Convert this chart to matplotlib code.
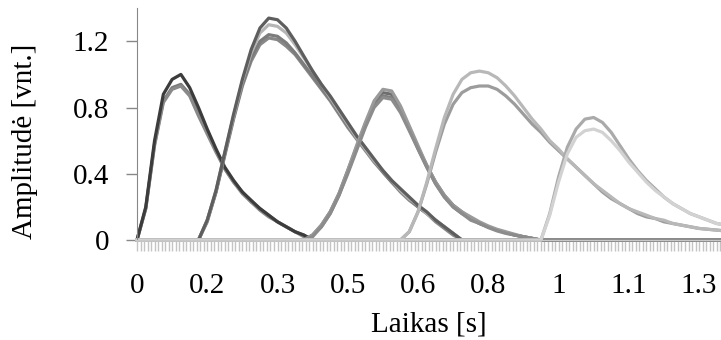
import numpy as np
import matplotlib.pyplot as plt
from matplotlib.ticker import MultipleLocator

plt.rcParams['font.family'] = ['Liberation Serif', 'DejaVu Serif']

# ------------------------------------------------
# sampled pulses (amplitude, step 0.02 s from onset)
# ------------------------------------------------
dt = 0.02
time = np.round(np.arange(0, 1.341, dt), 2)

onset_1 = 0.00
pulse_1a = [0, 0.20, 0.60, 0.88, 0.97, 1.00, 0.92, 0.80, 0.67, 0.55, 0.44,
            0.36, 0.29, 0.24, 0.19, 0.15, 0.11, 0.08, 0.05, 0.03, 0.0]
pulse_1b = [0, 0.19, 0.58, 0.84, 0.92, 0.94, 0.88, 0.76, 0.65, 0.54, 0.43,
            0.35, 0.29, 0.23, 0.19, 0.15, 0.11, 0.08, 0.05, 0.03, 0.0]
pulse_1c = [0, 0.19, 0.57, 0.83, 0.91, 0.93, 0.87, 0.75, 0.64, 0.53, 0.43,
            0.35, 0.28, 0.23, 0.18, 0.14, 0.11, 0.08, 0.05, 0.02, 0.0]

onset_2 = 0.14
pulse_2a = [0, 0.12, 0.30, 0.53, 0.76, 0.97, 1.15, 1.28, 1.34, 1.33, 1.28,
            1.20, 1.11, 1.02, 0.94, 0.87, 0.79, 0.71, 0.63, 0.56, 0.49, 0.42,
            0.36, 0.31, 0.26, 0.21, 0.17, 0.12, 0.08, 0.04, 0.0]
pulse_2b = [0, 0.12, 0.30, 0.53, 0.75, 0.96, 1.13, 1.25, 1.30, 1.29, 1.25,
            1.18, 1.10, 1.02, 0.94, 0.86, 0.78, 0.70, 0.62, 0.55, 0.48, 0.42,
            0.36, 0.30, 0.25, 0.21, 0.16, 0.12, 0.08, 0.04, 0.0]
pulse_2c = [0, 0.12, 0.29, 0.52, 0.74, 0.94, 1.10, 1.20, 1.24, 1.23, 1.19,
            1.13, 1.06, 0.99, 0.92, 0.85, 0.77, 0.69, 0.62, 0.55, 0.48, 0.41,
            0.35, 0.30, 0.25, 0.20, 0.16, 0.12, 0.08, 0.04, 0.0]
pulse_2d = [0, 0.11, 0.29, 0.51, 0.73, 0.93, 1.08, 1.18, 1.22, 1.21, 1.17,
            1.12, 1.05, 0.98, 0.91, 0.84, 0.76, 0.68, 0.61, 0.54, 0.47, 0.41,
            0.35, 0.29, 0.24, 0.20, 0.16, 0.11, 0.07, 0.03, 0.0]

onset_3 = 0.38
pulse_3a = [0, 0.03, 0.09, 0.17, 0.28, 0.42, 0.57, 0.71, 0.84, 0.91, 0.90,
            0.81, 0.69, 0.57, 0.45, 0.35, 0.27, 0.21, 0.17, 0.14, 0.11, 0.085,
            0.065, 0.05, 0.035, 0.02, 0.01, 0.0]
pulse_3b = [0, 0.03, 0.09, 0.17, 0.28, 0.42, 0.56, 0.70, 0.82, 0.89, 0.88,
            0.80, 0.68, 0.56, 0.45, 0.35, 0.27, 0.21, 0.17, 0.13, 0.10, 0.08,
            0.06, 0.045, 0.03, 0.02, 0.01, 0.0]
pulse_3c = [0, 0.03, 0.08, 0.16, 0.27, 0.41, 0.55, 0.69, 0.81, 0.87, 0.86,
            0.78, 0.67, 0.55, 0.44, 0.34, 0.26, 0.20, 0.16, 0.13, 0.10, 0.08,
            0.06, 0.045, 0.03, 0.02, 0.01, 0.0]
pulse_3d = [0, 0.02, 0.08, 0.16, 0.27, 0.40, 0.54, 0.68, 0.80, 0.86, 0.85,
            0.77, 0.66, 0.55, 0.44, 0.34, 0.26, 0.20, 0.16, 0.12, 0.10, 0.075,
            0.055, 0.04, 0.03, 0.02, 0.01, 0.0]

onset_4 = 0.60
pulse_4a = [0, 0.05, 0.17, 0.35, 0.55, 0.74, 0.88, 0.97, 1.01, 1.02, 1.01,
            0.98, 0.93, 0.87, 0.80, 0.73, 0.67, 0.60, 0.55, 0.49, 0.44, 0.39,
            0.34, 0.30, 0.26, 0.22, 0.19, 0.17, 0.15, 0.13, 0.12, 0.10, 0.09,
            0.08, 0.07, 0.065, 0.06, 0.055]
pulse_4b = [0, 0.05, 0.17, 0.34, 0.53, 0.70, 0.82, 0.89, 0.92, 0.93, 0.93,
            0.91, 0.87, 0.82, 0.76, 0.70, 0.65, 0.59, 0.54, 0.49, 0.44, 0.39,
            0.34, 0.29, 0.25, 0.22, 0.19, 0.16, 0.14, 0.13, 0.11, 0.10, 0.09,
            0.08, 0.07, 0.065, 0.06, 0.055]

onset_5 = 0.92
pulse_5a = [0, 0.16, 0.38, 0.56, 0.67, 0.73, 0.74, 0.71, 0.65, 0.57, 0.49,
            0.42, 0.36, 0.31, 0.26, 0.22, 0.19, 0.16, 0.14, 0.12, 0.10, 0.09]
pulse_5b = [0, 0.15, 0.35, 0.52, 0.62, 0.66, 0.67, 0.65, 0.60, 0.54, 0.47,
            0.41, 0.35, 0.30, 0.26, 0.22, 0.19, 0.16, 0.14, 0.12, 0.10, 0.09]

x_tick_pos = [0, 0.16, 0.32, 0.48, 0.64, 0.80, 0.96, 1.12, 1.28]
x_tick_labels = ['0', '0.2', '0.3', '0.5', '0.6', '0.8', '1', '1.1', '1.3']
y_tick_pos = [0, 0.4, 0.8, 1.2]
y_tick_labels = ['0', '0.4', '0.8', '1.2']


def full_series(onset, values):
    # zero everywhere except where the pulse was recorded
    y = np.zeros(len(time))
    i = int(round(onset / dt))
    n = min(len(values), len(time) - i)
    y[i:i + n] = values[:n]
    return y


series = [
    (onset_1, pulse_1b, '#7a7a7a'),
    (onset_1, pulse_1c, '#8a8a8a'),
    (onset_1, pulse_1a, '#3c3c3c'),
    (onset_2, pulse_2d, '#888888'),
    (onset_2, pulse_2c, '#7c7c7c'),
    (onset_2, pulse_2b, '#b5b5b5'),
    (onset_2, pulse_2a, '#5e5e5e'),
    (onset_3, pulse_3b, '#6e6e6e'),
    (onset_3, pulse_3c, '#7f7f7f'),
    (onset_3, pulse_3a, '#9a9a9a'),
    (onset_3, pulse_3d, '#8c8c8c'),
    (onset_4, pulse_4b, '#9c9c9c'),
    (onset_4, pulse_4a, '#b8b8b8'),
    (onset_5, pulse_5a, '#aaaaaa'),
    (onset_5, pulse_5b, '#d2d2d2'),
]

fig = plt.figure(figsize=(7.21, 3.40), dpi=100)
ax = fig.add_axes([0.19, 0.294, 0.81, 0.682])

for onset, vals, col in series:
    ax.plot(time, full_series(onset, vals), color=col, lw=2.3,
            solid_joinstyle='round', clip_on=False)

ax.set_xlim(0, 1.33)
ax.set_ylim(0, 1.4)

ax.set_xticks(x_tick_pos)
ax.set_xticklabels(x_tick_labels, fontsize=21)
ax.xaxis.set_minor_locator(MultipleLocator(0.008))
ax.tick_params(axis='x', which='both', direction='out', length=8,
               width=1, color='#c4c4c4', pad=16)
ax.set_yticks(y_tick_pos)
ax.set_yticklabels(y_tick_labels, fontsize=21)
ax.tick_params(axis='y', direction='out', length=8, width=1,
               color='#888888', pad=12)

for s in ['top', 'right']:
    ax.spines[s].set_visible(False)
ax.spines['left'].set_color('#888888')
ax.spines['bottom'].set_color('#c8c8c8')

ax.set_xlabel('Laikas [s]', fontsize=21, labelpad=9)
ax.set_ylabel('Amplitudė [vnt.]', fontsize=21)
ax.yaxis.set_label_coords(-0.17, 0.427)

fig.savefig('out.png', dpi=100)
